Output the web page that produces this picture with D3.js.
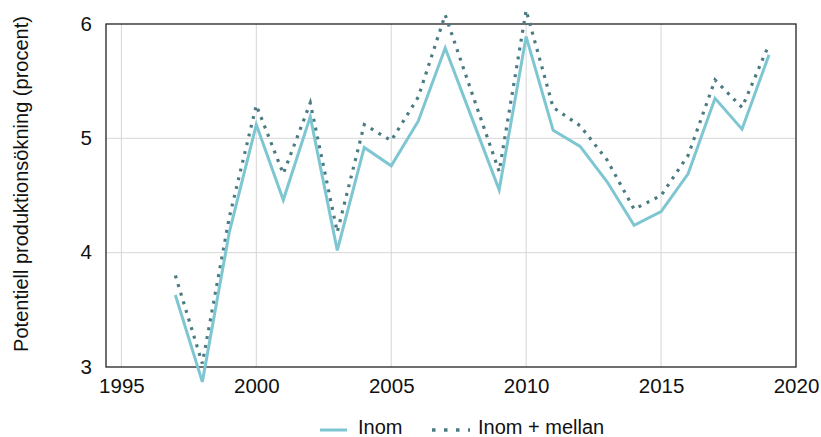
<!DOCTYPE html>
<html>
<head>
<meta charset="utf-8">
<script src="https://cdn.jsdelivr.net/npm/d3@7"></script>
<style>
  html, body { margin: 0; padding: 0; background: #fff; }
  svg text { font-family: "Liberation Sans", Arial, Helvetica, sans-serif; fill: #111; }
</style>
</head>
<body>
<svg id="chart" width="821" height="437"></svg>
<script>
const years = [1997,1998,1999,2000,2001,2002,2003,2004,2005,2006,2007,2008,2009,2010,2011,2012,2013,2014,2015,2016,2017,2018,2019];
const inom = [3.63,2.87,4.18,5.12,4.46,5.19,4.02,4.92,4.76,5.15,5.79,5.17,4.55,5.89,5.07,4.93,4.62,4.24,4.36,4.69,5.35,5.08,5.73];
const inomMellan = [3.80,3.03,4.31,5.29,4.69,5.31,4.18,5.12,4.98,5.36,6.08,5.39,4.71,6.12,5.27,5.11,4.81,4.38,4.50,4.85,5.51,5.27,5.82];
const xTicks = [1995,2000,2005,2010,2015,2020];
const yTicks = [3,4,5,6];
const seriesNames = ["Inom", "Inom + mellan"];

const svg = d3.select("#chart");
const L = 106, R = 796, T = 24, B = 367;
const x = d3.scaleLinear().domain([1994.43, 2020]).range([L, R]);
const y = d3.scaleLinear().domain([3, 6]).range([B, T]);

// gridlines
svg.append("g").selectAll("line").data(xTicks.filter(d => d < 2020)).join("line")
  .attr("x1", d => x(d)).attr("x2", d => x(d)).attr("y1", T).attr("y2", B)
  .attr("stroke", "#d6d6d6").attr("stroke-width", 1);
svg.append("g").selectAll("line").data(yTicks.filter(d => d > 3 && d < 6)).join("line")
  .attr("x1", L).attr("x2", R).attr("y1", d => y(d)).attr("y2", d => y(d))
  .attr("stroke", "#d6d6d6").attr("stroke-width", 1);

// axes (labels only)
const xAxis = svg.append("g").attr("transform", `translate(0,${B})`)
  .call(d3.axisBottom(x).tickValues(xTicks).tickFormat(d3.format("d")).tickSize(0).tickPadding(11));
xAxis.select(".domain").remove();
xAxis.selectAll("text").style("font-size", "20.5px").attr("fill", "#111");

const yAxis = svg.append("g").attr("transform", `translate(${L},0)`)
  .call(d3.axisLeft(y).tickValues(yTicks).tickFormat(d3.format("d")).tickSize(0).tickPadding(14));
yAxis.select(".domain").remove();
yAxis.selectAll("text").style("font-size", "20.5px").attr("fill", "#111").attr("dy", "0.3em");

// frame
svg.append("rect").attr("x", L).attr("y", T).attr("width", R - L).attr("height", B - T)
  .attr("fill", "none").attr("stroke", "#222").attr("stroke-width", 1.3);

// y title
svg.append("text")
  .attr("transform", `translate(28,184) rotate(-90)`)
  .attr("text-anchor", "middle")
  .style("font-size", "20px")
  .text("Potentiell produktionsökning (procent)");

const line = d3.line().x(d => x(d[0])).y(d => y(d[1]));
const solidColor = "#7ec6d2", dotColor = "#4b7b82";

svg.append("path").datum(years.map((yr, i) => [yr, inomMellan[i]]))
  .attr("d", line).attr("fill", "none").attr("stroke", dotColor)
  .attr("stroke-width", 3.2).attr("stroke-dasharray", "3,6");
svg.append("path").datum(years.map((yr, i) => [yr, inom[i]]))
  .attr("d", line).attr("fill", "none").attr("stroke", solidColor)
  .attr("stroke-width", 3).attr("stroke-linejoin", "miter");

// legend
const lg = svg.append("g");
lg.append("line").attr("x1", 320).attr("x2", 347).attr("y1", 430).attr("y2", 430)
  .attr("stroke", solidColor).attr("stroke-width", 3);
lg.append("text").attr("x", 358).attr("y", 434).style("font-size", "20px").text(seriesNames[0]);
lg.append("line").attr("x1", 432).attr("x2", 470).attr("y1", 430).attr("y2", 430)
  .attr("stroke", dotColor).attr("stroke-width", 3.4).attr("stroke-dasharray", "3.5,8.5");
lg.append("text").attr("x", 478).attr("y", 434).style("font-size", "20px").text(seriesNames[1]);
</script>
</body>
</html>
